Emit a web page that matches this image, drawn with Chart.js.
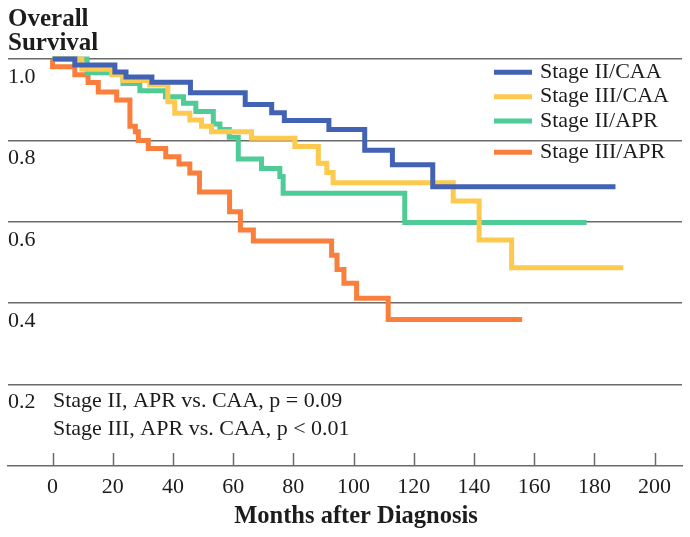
<!DOCTYPE html>
<html>
<head>
<meta charset="utf-8">
<script src="https://cdn.jsdelivr.net/npm/chart.js@4.4.1/dist/chart.umd.min.js"></script>
<style>
  html, body { margin: 0; padding: 0; background: #fff; }
</style>
</head>
<body>
<canvas id="km" width="690" height="537"></canvas>
<script>
const SERIES_NAMES = ['Stage II/CAA', 'Stage III/CAA', 'Stage II/APR', 'Stage III/APR'];
const SERIES_COLORS = ['#4262b4', '#fdc94f', '#4fcb98', '#fa7f3c'];

// Kaplan-Meier curves: month of each event and survival right after it
const II_CAA_T = [0, 7.4, 20.7, 24.4, 33, 45.8, 64, 72.8, 77, 91.8, 103.7, 112.9, 126.3, 187];
const II_CAA_S = [1.0, 0.985, 0.968, 0.956, 0.943, 0.917, 0.888, 0.868, 0.849, 0.827, 0.776, 0.740, 0.686, 0.686];

const III_CAA_T = [0, 9.7, 19.7, 23.4, 32.3, 38.3, 40.6, 45.6, 49.5, 52.8, 66.1, 80.5, 88.3, 91.1, 93.2, 133.1, 141.7, 152.5, 189.6];
const III_CAA_S = [1.0, 0.975, 0.961, 0.947, 0.936, 0.895, 0.867, 0.850, 0.835, 0.821, 0.805, 0.785, 0.744, 0.721, 0.696, 0.651, 0.555, 0.487, 0.487];

const II_APR_T = [0, 11.5, 23.4, 29, 37.5, 43.5, 47.6, 53.4, 55.6, 58.7, 61.7, 69.4, 75.5, 76.6, 117, 177.4];
const II_APR_S = [1.0, 0.966, 0.940, 0.922, 0.907, 0.891, 0.871, 0.840, 0.827, 0.808, 0.754, 0.731, 0.711, 0.670, 0.598, 0.598];

const III_APR_T = [0, 0, 7.4, 11.8, 15.2, 21.3, 25.7, 27.5, 28.5, 31.8, 37.6, 42, 45.6, 48.8, 58.8, 62.4, 66.7, 92.7, 94.5, 96.8, 101, 111.5, 156];
const III_APR_S = [1.0, 0.981, 0.961, 0.942, 0.919, 0.899, 0.835, 0.821, 0.800, 0.780, 0.760, 0.742, 0.720, 0.673, 0.625, 0.580, 0.553, 0.518, 0.483, 0.449, 0.412, 0.360, 0.360];

const X_TICKS = [0, 20, 40, 60, 80, 100, 120, 140, 160, 180, 200];
const Y_TICKS = [0.2, 0.4, 0.6, 0.8, 1.0];
const X_MIN = -14.8, X_MAX = 209.1;

const Y_TITLE = ['Overall', 'Survival'];
const X_TITLE = 'Months after Diagnosis';
const NOTES = ['Stage II, APR vs. CAA, p = 0.09', 'Stage III, APR vs. CAA, p < 0.01'];

const SERIF = "'Liberation Serif', 'Times New Roman', serif";
const INK = '#1c1c1c';
const GRID = '#6a6a6a';

const toPoints = (t, s) => t.map((v, i) => ({ x: v, y: s[i] }));
const CURVES = [
  toPoints(II_CAA_T, II_CAA_S),
  toPoints(III_CAA_T, III_CAA_S),
  toPoints(II_APR_T, II_APR_S),
  toPoints(III_APR_T, III_APR_S)
];

/* texte, légende et petites graduations vers l'intérieur */
const decorations = {
  id: 'decorations',
  afterDraw(chart) {
    const { ctx, chartArea, scales: { x } } = chart;
    ctx.save();

    ctx.strokeStyle = GRID;
    ctx.lineWidth = 1.5;
    X_TICKS.forEach(v => {
      const px = Math.round(x.getPixelForValue(v)) + 0.5;
      ctx.beginPath();
      ctx.moveTo(px, chartArea.bottom);
      ctx.lineTo(px, chartArea.bottom - 13);
      ctx.stroke();
    });

    ctx.fillStyle = INK;
    ctx.textBaseline = 'alphabetic';
    ctx.textAlign = 'left';
    ctx.font = 'bold 25px ' + SERIF;
    ctx.fillText(Y_TITLE[0], 8, 26);
    ctx.fillText(Y_TITLE[1], 8, 50);

    ctx.font = '22px ' + SERIF;
    ctx.fillText(NOTES[0], 53, 407);
    ctx.fillText(NOTES[1], 53, 435);

    ctx.textAlign = 'center';
    ctx.font = 'bold 24.5px ' + SERIF;
    ctx.fillText(X_TITLE, 356, 523);

    // légende en haut à droite
    const rows = [72.3, 96.7, 121, 152.3];
    ctx.textAlign = 'left';
    ctx.font = '22px ' + SERIF;
    chart.data.datasets.forEach((ds, i) => {
      ctx.strokeStyle = ds.borderColor;
      ctx.lineWidth = 5;
      ctx.beginPath();
      ctx.moveTo(494, rows[i]);
      ctx.lineTo(532, rows[i]);
      ctx.stroke();
      ctx.fillStyle = INK;
      ctx.fillText(ds.label, 540, rows[i] + 5.5);
    });

    ctx.restore();
  }
};

new Chart(document.getElementById('km'), {
  type: 'line',
  data: {
    datasets: CURVES.map((pts, i) => ({
      label: SERIES_NAMES[i],
      data: pts,
      borderColor: SERIES_COLORS[i],
      borderWidth: 5,
      stepped: 'before',
      pointRadius: 0,
      fill: false,
      clip: false,
      borderJoinStyle: 'miter',
      borderCapStyle: 'butt'
    }))
  },
  options: {
    responsive: false,
    animation: false,
    layout: { padding: { left: 8, right: 8, top: 59, bottom: 0 } },
    plugins: { legend: { display: false }, tooltip: { enabled: false } },
    scales: {
      x: {
        type: 'linear',
        min: X_MIN,
        max: X_MAX,
        afterBuildTicks: s => { s.ticks = X_TICKS.map(v => ({ value: v })); },
        afterFit: s => { s.height = 71; },
        grid: { display: false, drawTicks: false },
        border: { display: true, color: GRID, width: 1.5 },
        ticks: {
          color: INK,
          padding: 8,
          maxRotation: 0,
          autoSkip: false,
          font: { family: SERIF, size: 22 }
        }
      },
      y: {
        min: 0,
        max: 1,
        afterBuildTicks: s => { s.ticks = Y_TICKS.map(v => ({ value: v })); },
        afterFit: s => { s.width = 0; },
        grid: { color: GRID, lineWidth: 1.5, drawTicks: false },
        border: { display: false },
        ticks: {
          mirror: true,
          padding: 0,
          labelOffset: 18,
          color: INK,
          font: { family: SERIF, size: 22 },
          callback: v => v.toFixed(1)
        }
      }
    }
  },
  plugins: [decorations]
});
</script>
</body>
</html>
